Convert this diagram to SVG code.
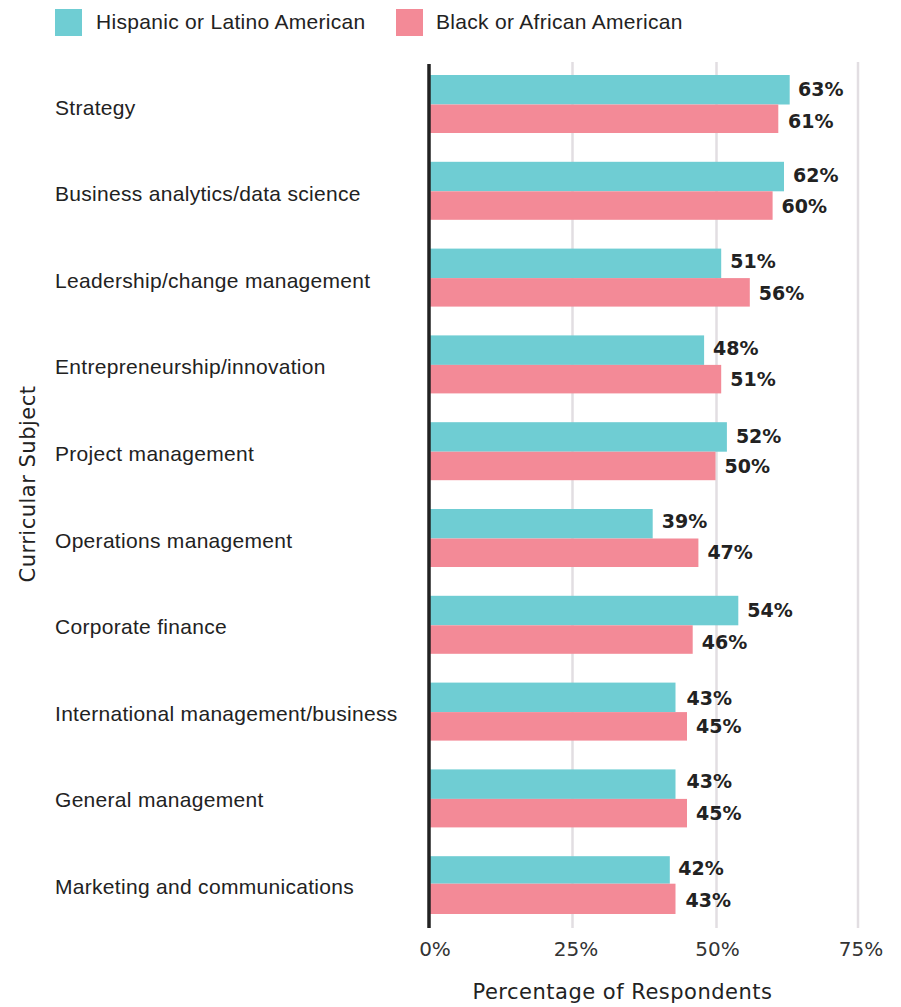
<svg xmlns="http://www.w3.org/2000/svg" width="901" height="1007" viewBox="0 0 901 1007">
<style>
.cat{font-family:"Liberation Sans",Arial,sans-serif;font-size:21px;letter-spacing:0.3px;fill:#222}
.val{font-family:"DejaVu Sans",sans-serif;font-weight:bold;font-size:19px;fill:#222}
.tick{font-family:"DejaVu Sans",sans-serif;font-size:20px;fill:#333;text-anchor:middle}
.title{font-family:"DejaVu Sans",sans-serif;font-size:21px;letter-spacing:0.5px;fill:#222;text-anchor:middle}
.h{fill:#6FCDD3}
.b{fill:#F38A97}
.grid{stroke:#E2DEE2;stroke-width:2.5}
</style>
<rect width="901" height="1007" fill="#fff"/>
<g id="legend">
<rect x="55" y="9" width="27" height="27" class="h"/>
<text x="96" y="28.5" class="cat">Hispanic or Latino American</text>
<rect x="396" y="9" width="27" height="27" class="b"/>
<text x="436" y="28.5" class="cat">Black or African American</text>
</g>
<g id="grid">
<line x1="572.5" y1="62" x2="572.5" y2="928" class="grid"/>
<line x1="716.5" y1="62" x2="716.5" y2="928" class="grid"/>
<line x1="858" y1="62" x2="858" y2="928" class="grid"/>
</g>
<g id="row-strategy">
<text x="55" y="114.5" class="cat">Strategy</text>
<rect x="430" y="75" width="359.7" height="29.5" class="h"/>
<rect x="430" y="104.5" width="348.3" height="28.5" class="b"/>
<text x="798" y="96" class="val">63%</text>
<text x="788" y="128" class="val">61%</text>
</g>
<g id="row-analytics">
<text x="55" y="201.1" class="cat">Business analytics/data science</text>
<rect x="430" y="161.8" width="354" height="29.5" class="h"/>
<rect x="430" y="191.3" width="342.6" height="28.5" class="b"/>
<text x="793" y="182" class="val">62%</text>
<text x="781.6" y="213" class="val">60%</text>
</g>
<g id="row-leadership">
<text x="55" y="287.7" class="cat">Leadership/change management</text>
<rect x="430" y="248.6" width="291.2" height="29.5" class="h"/>
<rect x="430" y="278.1" width="319.8" height="28.5" class="b"/>
<text x="730.2" y="268" class="val">51%</text>
<text x="758.8" y="300" class="val">56%</text>
</g>
<g id="row-entrepreneurship">
<text x="55" y="374.3" class="cat">Entrepreneurship/innovation</text>
<rect x="430" y="335.4" width="274.1" height="29.5" class="h"/>
<rect x="430" y="364.9" width="291.2" height="28.5" class="b"/>
<text x="713.1" y="355" class="val">48%</text>
<text x="730.2" y="386" class="val">51%</text>
</g>
<g id="row-project">
<text x="55" y="460.9" class="cat">Project management</text>
<rect x="430" y="422.2" width="296.9" height="29.5" class="h"/>
<rect x="430" y="451.7" width="285.5" height="28.5" class="b"/>
<text x="735.9" y="443" class="val">52%</text>
<text x="724.5" y="473" class="val">50%</text>
</g>
<g id="row-operations">
<text x="55" y="547.5" class="cat">Operations management</text>
<rect x="430" y="509" width="222.7" height="29.5" class="h"/>
<rect x="430" y="538.5" width="268.4" height="28.5" class="b"/>
<text x="661.7" y="528" class="val">39%</text>
<text x="707.4" y="559" class="val">47%</text>
</g>
<g id="row-finance">
<text x="55" y="634.1" class="cat">Corporate finance</text>
<rect x="430" y="595.8" width="308.3" height="29.5" class="h"/>
<rect x="430" y="625.3" width="262.7" height="28.5" class="b"/>
<text x="747.3" y="616.5" class="val">54%</text>
<text x="701.7" y="648.5" class="val">46%</text>
</g>
<g id="row-international">
<text x="55" y="720.7" class="cat">International management/business</text>
<rect x="430" y="682.6" width="245.5" height="29.5" class="h"/>
<rect x="430" y="712.1" width="257" height="28.5" class="b"/>
<text x="686.5" y="704.5" class="val">43%</text>
<text x="696" y="732.5" class="val">45%</text>
</g>
<g id="row-general">
<text x="55" y="807.3" class="cat">General management</text>
<rect x="430" y="769.4" width="245.5" height="29.5" class="h"/>
<rect x="430" y="798.9" width="257" height="28.5" class="b"/>
<text x="686.5" y="788" class="val">43%</text>
<text x="696" y="820" class="val">45%</text>
</g>
<g id="row-marketing">
<text x="55" y="893.9" class="cat">Marketing and communications</text>
<rect x="430" y="856.2" width="239.8" height="27.5" class="h"/>
<rect x="430" y="883.7" width="245.5" height="30.3" class="b"/>
<text x="678.3" y="875" class="val">42%</text>
<text x="685.5" y="906.5" class="val">43%</text>
</g>
<g id="axis">
<line x1="429" y1="64" x2="429" y2="928" stroke="#222" stroke-width="3.5"/>
<text x="435" y="956" class="tick">0%</text>
<text x="576" y="956" class="tick">25%</text>
<text x="717.5" y="956" class="tick">50%</text>
<text x="861" y="956" class="tick">75%</text>
<text x="622.5" y="999" class="title">Percentage of Respondents</text>
<text transform="translate(35,484) rotate(-90)" class="title">Curricular Subject</text>
</g>
</svg>
